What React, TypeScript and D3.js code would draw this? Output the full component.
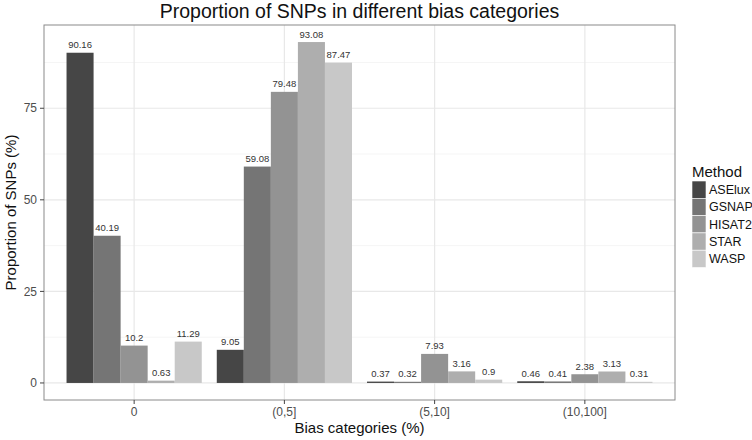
import * as d3 from 'd3';

const categories = ['0', '(0,5]', '(5,10]', '(10,100]'];
const methods = ['ASElux', 'GSNAP', 'HISAT2', 'STAR', 'WASP'];
const aselux = [90.16, 9.05, 0.37, 0.46];
const gsnap = [40.19, 59.08, 0.32, 0.41];
const hisat2 = [10.2, 79.48, 7.93, 2.38];
const star = [0.63, 93.08, 3.16, 3.13];
const wasp = [11.29, 87.47, 0.9, 0.31];
const yTicks = [0, 25, 50, 75];
const yMinor = [12.5, 37.5, 62.5, 87.5];

const seriesValues = [aselux, gsnap, hisat2, star, wasp];
const fills = ['#464646', '#757575', '#939393', '#aeaeae', '#c8c8c8'];

const W = 752;
const H = 440;
const margin = { top: 25, right: 77, bottom: 40, left: 44 };
const font = '"Liberation Sans", Arial, Helvetica, sans-serif';

export default function App() {
  const x0 = margin.left;
  const x1 = W - margin.right;
  const yTop = margin.top;
  const yBot = H - margin.bottom;

  // discrete axis with ggplot's 0.6 expansion
  const xPos = d3.scaleLinear().domain([0.4, categories.length + 0.6]).range([x0, x1]);
  // 5% expansion of the data range
  const maxV = d3.max(seriesValues.flat()) ?? 0;
  const y = d3.scaleLinear().domain([-maxV * 0.05, maxV * 1.05]).range([yBot, yTop]);

  const groupWidth = 0.9;
  const barW = groupWidth / methods.length;

  const bars = methods.flatMap((m, mi) =>
    categories.map((c, ci) => {
      const v = seriesValues[mi][ci];
      const left = ci + 1 - groupWidth / 2 + mi * barW;
      return { m, mi, c, v, xl: xPos(left), xr: xPos(left + barW) };
    })
  );

  return (
    <svg width={W} height={H} style={{ position: 'absolute', left: 0, top: 0, background: '#fff' }}>
      {/* minor grid */}
      {yMinor.map(t => (
        <line key={'mn' + t} x1={x0} x2={x1} y1={y(t)} y2={y(t)} stroke="#f3f3f3" strokeWidth={0.8} />
      ))}
      {/* major grid */}
      {yTicks.map(t => (
        <line key={'mj' + t} x1={x0} x2={x1} y1={y(t)} y2={y(t)} stroke="#e8e8e8" strokeWidth={1.2} />
      ))}
      {categories.map((c, i) => (
        <line key={'vx' + c} x1={xPos(i + 1)} x2={xPos(i + 1)} y1={yTop} y2={yBot} stroke="#e8e8e8" strokeWidth={1.2} />
      ))}

      {/* bars */}
      {bars.map(b => (
        <rect
          key={b.m + b.c}
          x={b.xl}
          width={b.xr - b.xl}
          y={y(b.v)}
          height={y(0) - y(b.v)}
          fill={fills[b.mi]}
        />
      ))}
      {bars.map(b => (
        <text
          key={'l' + b.m + b.c}
          x={(b.xl + b.xr) / 2}
          y={y(b.v) - 4.5}
          textAnchor="middle"
          fontFamily={font}
          fontSize={9.5}
          fill="#333"
        >
          {b.v}
        </text>
      ))}

      {/* panel border */}
      <rect x={x0} y={yTop} width={x1 - x0} height={yBot - yTop} fill="none" stroke="#8a8a8a" strokeWidth={1} />

      {/* y axis */}
      {yTicks.map(t => (
        <g key={'yt' + t}>
          <line x1={x0 - 4} x2={x0} y1={y(t)} y2={y(t)} stroke="#444" strokeWidth={1} />
          <text x={x0 - 7} y={y(t)} dy="0.35em" textAnchor="end" fontFamily={font} fontSize={12} fill="#4d4d4d">
            {t}
          </text>
        </g>
      ))}
      {/* x axis */}
      {categories.map((c, i) => (
        <g key={'xt' + c}>
          <line x1={xPos(i + 1)} x2={xPos(i + 1)} y1={yBot} y2={yBot + 4} stroke="#444" strokeWidth={1} />
          <text x={xPos(i + 1)} y={yBot + 16} textAnchor="middle" fontFamily={font} fontSize={12} fill="#4d4d4d">
            {c}
          </text>
        </g>
      ))}

      {/* titles */}
      <text x={(x0 + x1) / 2} y={18} textAnchor="middle" fontFamily={font} fontSize={19.5} fill="#111">
        Proportion of SNPs in different bias categories
      </text>
      <text x={(x0 + x1) / 2} y={433} textAnchor="middle" fontFamily={font} fontSize={15} fill="#111">
        Bias categories (%)
      </text>
      <text
        transform={`translate(16,${(yTop + yBot) / 2}) rotate(-90)`}
        textAnchor="middle"
        fontFamily={font}
        fontSize={15}
        fill="#111"
      >
        Proportion of SNPs (%)
      </text>

      {/* legend */}
      <text x={692} y={177} fontFamily={font} fontSize={15} fill="#111">
        Method
      </text>
      {methods.map((m, i) => (
        <g key={'lg' + m}>
          <rect x={692} y={181 + i * 17.3} width={14} height={17.3} fill={fills[i]} stroke="#fff" strokeWidth={0.6} />
          <text x={709} y={181 + i * 17.3 + 8.7} dy="0.35em" fontFamily={font} fontSize={12.5} fill="#111">
            {m}
          </text>
        </g>
      ))}
    </svg>
  );
}
